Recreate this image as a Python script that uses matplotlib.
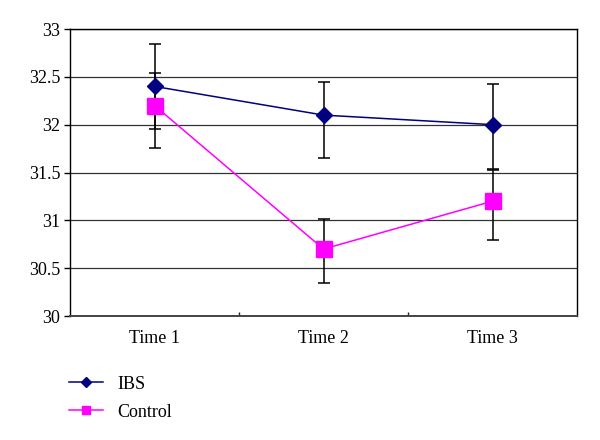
import matplotlib
matplotlib.use("Agg")
import matplotlib.pyplot as plt
import numpy as np

categories = ["Time 1", "Time 2", "Time 3"]
ibs = [32.4, 32.1, 32.0]
ibs_lower = [31.95, 31.65, 31.54]
ibs_upper = [32.84, 32.45, 32.42]
control = [32.2, 30.7, 31.2]
control_lower = [31.76, 30.35, 30.79]
control_upper = [32.54, 31.01, 31.53]

plt.rcParams['font.family'] = ['Liberation Serif', 'DejaVu Serif']

fig = plt.figure(figsize=(6.0, 4.4), dpi=100)
ax = fig.add_axes([70/600, 1-316/440, (577-70)/600, (316-29)/440])

x = np.arange(len(categories))

ibs_err = [np.array(ibs) - np.array(ibs_lower), np.array(ibs_upper) - np.array(ibs)]
ctl_err = [np.array(control) - np.array(control_lower), np.array(control_upper) - np.array(control)]

ax.errorbar(x, ibs, yerr=ibs_err, fmt='none', ecolor='black', elinewidth=1.1,
            capsize=4, capthick=1.1, zorder=3)
ax.errorbar(x, control, yerr=ctl_err, fmt='none', ecolor='black', elinewidth=1.1,
            capsize=4, capthick=1.1, zorder=3)

l1, = ax.plot(x, ibs, color='#000080', lw=1.1, marker='D', ms=8.5,
              markerfacecolor='#000080', markeredgecolor='#000080', zorder=5, label='IBS')
l2, = ax.plot(x, control, color='#FF00FF', lw=1.1, marker='s', ms=11.5,
              markerfacecolor='#FF00FF', markeredgecolor='#FF00FF', zorder=4, label='Control')

ax.set_xlim(-0.5, 2.5)
ax.set_ylim(30, 33)
ax.set_yticks(np.arange(30, 33.01, 0.5))
ax.set_yticklabels(["30", "30.5", "31", "31.5", "32", "32.5", "33"])
ax.set_xticks(x)
ax.set_xticklabels(categories)
ax.set_xticks([0.5, 1.5], minor=True)
ax.tick_params(axis='x', which='major', length=0, pad=10, labelsize=13)
ax.tick_params(axis='x', which='minor', length=3, direction='in', width=1, color='#222222')
ax.tick_params(axis='y', which='major', length=4, direction='out', width=1, pad=3, labelsize=13)

ax.yaxis.grid(True, color='#333333', lw=0.9)
ax.set_axisbelow(True)
for s in ax.spines.values():
    s.set_color('black')
    s.set_linewidth(1.0)
ax.spines['bottom'].set_color('#444444')
ax.spines['bottom'].set_linewidth(1.4)

leg = fig.legend(handles=[l1, l2], loc='upper left', bbox_to_anchor=(0.115, 0.146),
                 frameon=False, fontsize=13, handlelength=1.9, markerscale=0.55,
                 labelspacing=0.6, handletextpad=0.8, borderaxespad=0, borderpad=0)

fig.savefig("out.png", dpi=100)
